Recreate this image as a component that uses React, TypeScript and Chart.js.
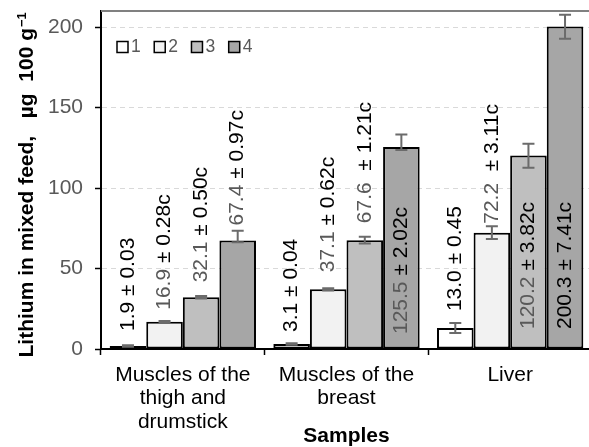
import React, { useEffect, useRef } from "react";
import { Chart, registerables } from "chart.js";

Chart.register(...registerables);

// ---------- data ----------
const categories = [
  ["Muscles of the", "thigh and", "drumstick"],
  ["Muscles of the", "breast"],
  ["Liver"],
];
const seriesNames = ["1", "2", "3", "4"];

const series1 = [1.9, 3.1, 13.0];
const series2 = [16.9, 37.1, 72.2];
const series3 = [32.1, 67.6, 120.2];
const series4 = [67.4, 125.5, 200.3];

// text following the value in each data label
const suffix1 = [" ± 0.03", " ± 0.04", " ± 0.45"];
const suffix2 = [" ± 0.28c", " ± 0.62c", "  ± 3.11c"];
const suffix3 = [" ± 0.50c", "  ± 1.21c", " ± 3.82c"];
const suffix4 = [" ± 0.97c", " ± 2.02c", " ± 7.41c"];

// error bars as drawn in the picture (data units)
const errPlus1 = [0.5, 0.5, 3.1];
const errMinus1 = [0.5, 0.5, 3.1];
const errPlus2 = [0.5, 0.7, 4.0];
const errMinus2 = [0.5, 0.7, 3.8];
const errPlus3 = [0.8, 2.1, 7.3];
const errMinus3 = [0.8, 2.1, 7.6];
const errPlus4 = [6.0, 7.7, 7.3];
const errMinus4 = [1.0, 1.9, 7.6];

const yTicks = [0, 50, 100, 150, 200];

const yTitleMain = "Lithium in mixed feed,   µg  100 g";
const yTitleSup = "−1";
const xTitle = "Samples";

// ---------- styles ----------
const FONT = "'Liberation Sans', Arial, sans-serif";
const fills = ["#ffffff", "#f2f2f2", "#bfbfbf", "#a6a6a6"];
const GRAY_TEXT = "#595959";

// label placement: [mode, gap px]; 'out' = above bar top, 'in' = above the base
const labelPlacement: [string, number][][] = [
  [["out", 15], ["out", 12], ["out", 17]],
  [["out", 12], ["out", 17], ["out", 9]],
  [["out", 15], ["out", 17], ["in", 20]],
  [["out", 15], ["in", 15], ["in", 20]],
];
const valueColors = [
  ["#000", "#000", "#000"],
  [GRAY_TEXT, GRAY_TEXT, GRAY_TEXT],
  [GRAY_TEXT, GRAY_TEXT, GRAY_TEXT],
  [GRAY_TEXT, GRAY_TEXT, "#000"],
];

const seriesValues = [series1, series2, series3, series4];
const suffixes = [suffix1, suffix2, suffix3, suffix4];
const errPlus = [errPlus1, errPlus2, errPlus3, errPlus4];
const errMinus = [errMinus1, errMinus2, errMinus3, errMinus4];

const errorBarPlugin = {
  id: "errorBars",
  afterDatasetsDraw(chart: any) {
    const ctx = chart.ctx;
    const y = chart.scales.y;
    ctx.save();
    ctx.strokeStyle = "#6b6b6b";
    ctx.lineWidth = 2;
    chart.data.datasets.forEach((ds: any, i: number) => {
      const meta = chart.getDatasetMeta(i);
      meta.data.forEach((bar: any, j: number) => {
        const v = ds.data[j];
        const yT = y.getPixelForValue(v + errPlus[i][j]);
        const yB = y.getPixelForValue(v - errMinus[i][j]);
        const x = bar.x;
        ctx.beginPath();
        ctx.moveTo(x, yB);
        ctx.lineTo(x, yT);
        ctx.moveTo(x - 6, yT);
        ctx.lineTo(x + 6, yT);
        ctx.moveTo(x - 6, yB);
        ctx.lineTo(x + 6, yB);
        ctx.stroke();
      });
    });
    ctx.restore();
  },
};

const labelPlugin = {
  id: "barLabels",
  afterDatasetsDraw(chart: any) {
    const ctx = chart.ctx;
    const y = chart.scales.y;
    chart.data.datasets.forEach((ds: any, i: number) => {
      const meta = chart.getDatasetMeta(i);
      meta.data.forEach((bar: any, j: number) => {
        const v = ds.data[j];
        const [mode, gap] = labelPlacement[i][j];
        const startY = mode === "in" ? y.getPixelForValue(0) - gap : bar.y - gap;
        ctx.save();
        ctx.translate(bar.x, startY);
        ctx.rotate(-Math.PI / 2);
        ctx.font = `21px ${FONT}`;
        ctx.textBaseline = "middle";
        ctx.textAlign = "left";
        const valueText = v.toFixed(1);
        ctx.fillStyle = valueColors[i][j];
        ctx.fillText(valueText, 0, 0);
        const w = ctx.measureText(valueText).width;
        ctx.fillStyle = "#000";
        ctx.fillText(suffixes[i][j], w, 0);
        ctx.restore();
      });
    });
  },
};

const decorPlugin = {
  id: "decor",
  afterDraw(chart: any) {
    const ctx = chart.ctx;
    const a = chart.chartArea;
    ctx.save();
    // top frame line
    ctx.strokeStyle = "#808080";
    ctx.lineWidth = 2;
    ctx.beginPath();
    ctx.moveTo(a.left, a.top);
    ctx.lineTo(a.right, a.top);
    ctx.stroke();

    // legend
    ctx.font = `17.5px ${FONT}`;
    ctx.textBaseline = "middle";
    ctx.textAlign = "left";
    let x = a.left + 16;
    const cy = a.top + 36;
    chart.data.datasets.forEach((ds: any) => {
      ctx.fillStyle = ds.backgroundColor;
      ctx.fillRect(x, cy - 5.5, 11, 11);
      ctx.strokeStyle = "#000";
      ctx.lineWidth = 1.5;
      ctx.strokeRect(x, cy - 5.5, 11, 11);
      ctx.fillStyle = GRAY_TEXT;
      ctx.fillText(ds.label, x + 14, cy + 0.5);
      x += 14 + ctx.measureText(ds.label).width + 13.5;
    });

    // y axis title
    ctx.translate(27, a.bottom + 8.5);
    ctx.rotate(-Math.PI / 2);
    ctx.fillStyle = "#000";
    ctx.font = `bold 21px ${FONT}`;
    ctx.fillText(yTitleMain, 0, 0);
    const w = ctx.measureText(yTitleMain).width;
    ctx.font = `bold 13px ${FONT}`;
    ctx.fillText(yTitleSup, w + 1, -5);
    ctx.restore();
  },
};

export default function App() {
  const ref = useRef<HTMLCanvasElement | null>(null);
  useEffect(() => {
    if (!ref.current) return;
    Chart.defaults.font.family = FONT;
    const chart = new Chart(ref.current, {
      type: "bar",
      data: {
        labels: categories,
        datasets: seriesValues.map((vals, i) => ({
          label: seriesNames[i],
          data: vals,
          backgroundColor: fills[i],
          borderColor: "#000",
          borderWidth: 2,
          borderSkipped: false,
          categoryPercentage: 0.894,
          barPercentage: 1,
        })),
      },
      options: {
        animation: false,
        responsive: false,
        devicePixelRatio: 1,
        layout: { padding: { top: 11, left: 0, right: 0, bottom: 0 } },
        plugins: {
          legend: { display: false },
          tooltip: { enabled: false },
        },
        scales: {
          x: {
            grid: {
              display: true,
              drawOnChartArea: false,
              drawTicks: true,
              tickLength: 6,
              color: "#000",
              tickColor: "#000",
              tickWidth: 1.5,
              offset: true,
            },
            border: { display: true, color: "#000", width: 2 },
            ticks: {
              color: "#000",
              font: { size: 21, lineHeight: 1.12 },
              padding: 8,
              maxRotation: 0,
              autoSkip: false,
            },
            title: {
              display: true,
              text: xTitle,
              color: "#000",
              font: { size: 21, weight: "bold", lineHeight: 1 },
              padding: 0,
            },
            afterFit: (s: any) => {
              s.height = 98;
              s.paddingLeft = 0;
              s.paddingRight = 0;
            },
          } as any,
          y: {
            min: 0,
            max: 210,
            afterBuildTicks: (s: any) => {
              s.ticks = yTicks.map((v) => ({ value: v }));
            },
            grid: {
              color: "#d9d9d9",
              lineWidth: 1,
              tickColor: "#000",
              tickLength: 6,
              tickWidth: 1.5,
              drawTicks: true,
            },
            border: { display: true, color: "#000", width: 2, dash: [5, 4] },
            ticks: { color: GRAY_TEXT, font: { size: 21 }, padding: 12 },
            afterFit: (s: any) => {
              s.width = 101;
              s.paddingTop = 0;
              s.paddingBottom = 0;
            },
          } as any,
        },
      },
      plugins: [errorBarPlugin, labelPlugin, decorPlugin],
    } as any);
    return () => chart.destroy();
  }, []);

  return (
    <div
      style={{
        position: "absolute",
        left: 0,
        top: 0,
        width: 589,
        height: 447,
        overflow: "hidden",
        background: "#fff",
      }}
    >
      <canvas ref={ref} width={592} height={447} style={{ display: "block", width: 592, height: 447 }} />
    </div>
  );
}
